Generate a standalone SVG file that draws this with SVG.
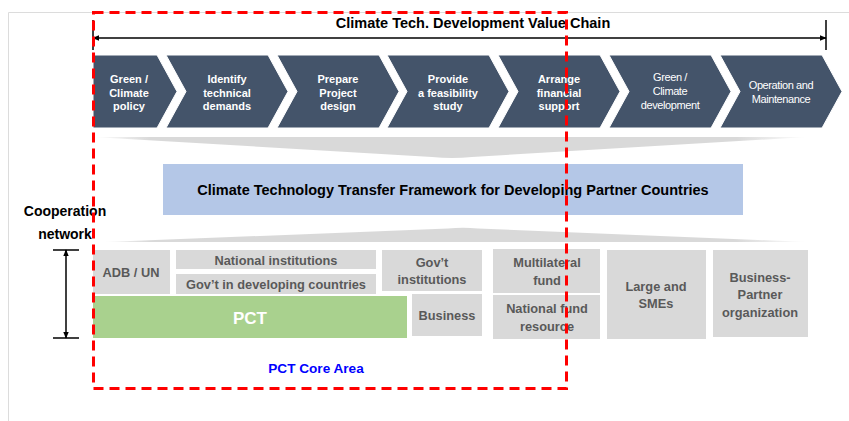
<svg xmlns="http://www.w3.org/2000/svg" width="849" height="421" viewBox="0 0 849 421">
<defs>
<style>
text{font-family:"Liberation Sans",Arial,sans-serif;font-weight:bold;text-anchor:middle}
.chev{fill:#44546a;stroke:#ffffff;stroke-width:1}
.ct{fill:#ffffff;font-size:11px}
.ctn{fill:#ffffff;font-size:11px;font-weight:normal;letter-spacing:-0.4px}
.box{fill:#d9d9d9}
.bt{fill:#595959;font-size:12.8px}
.ln{stroke:#000000;stroke-width:1.5;fill:none}
</style>
<marker id="ah" viewBox="0 0 10 10" refX="9" refY="5" markerWidth="7" markerHeight="7" orient="auto-start-reverse" markerUnits="userSpaceOnUse">
<path d="M0,1 L10,5 L0,9 Z" fill="#000000"/>
</marker>
<linearGradient id="fade" x1="93" y1="0" x2="808" y2="0" gradientUnits="userSpaceOnUse">
<stop offset="0" stop-color="#d9d9d9" stop-opacity="0"/>
<stop offset="0.08" stop-color="#d9d9d9" stop-opacity="1"/>
<stop offset="0.9" stop-color="#d9d9d9" stop-opacity="1"/>
<stop offset="1" stop-color="#d9d9d9" stop-opacity="0"/>
</linearGradient>
</defs>
<rect x="0" y="0" width="849" height="421" fill="#ffffff"/>
<path d="M8.5,421 L8.5,12.5 L849,12.5" fill="none" stroke="#dcdcdc" stroke-width="1"/>

<g id="title">
<text x="473" y="28" font-size="14.5px" fill="#000000">Climate Tech. Development Value Chain</text>
</g>

<g id="connectors">
<line class="ln" x1="93" y1="38" x2="826" y2="38" marker-start="url(#ah)" marker-end="url(#ah)"/>
<line class="ln" x1="93" y1="20" x2="93" y2="50"/>
<line class="ln" x1="826" y1="20" x2="826" y2="50"/>
<line class="ln" x1="66" y1="250" x2="66" y2="338" marker-start="url(#ah)" marker-end="url(#ah)"/>
<line class="ln" x1="53" y1="250" x2="79" y2="250"/>
<line class="ln" x1="53" y1="338" x2="79" y2="338"/>
</g>

<g id="chevron1">
<polygon class="chev" points="93,55 157,55 177,91.5 157,128 93,128"/>
<text class="ct" x="129" y="83">Green /</text>
<text class="ct" x="129" y="96.5">Climate</text>
<text class="ct" x="129" y="110">policy</text>
</g>
<g id="chevron2">
<polygon class="chev" points="166,55 268,55 288,91.5 268,128 166,128 186,91.5"/>
<text class="ct" x="227" y="83">Identify</text>
<text class="ct" x="227" y="96.5">technical</text>
<text class="ct" x="227" y="110">demands</text>
</g>
<g id="chevron3">
<polygon class="chev" points="277,55 379,55 399,91.5 379,128 277,128 297,91.5"/>
<text class="ct" x="338" y="83">Prepare</text>
<text class="ct" x="338" y="96.5">Project</text>
<text class="ct" x="338" y="110">design</text>
</g>
<g id="chevron4">
<polygon class="chev" points="387,55 489,55 509,91.5 489,128 387,128 407,91.5"/>
<text class="ct" x="448" y="83">Provide</text>
<text class="ct" x="448" y="96.5">a feasibility</text>
<text class="ct" x="448" y="110">study</text>
</g>
<g id="chevron5">
<polygon class="chev" points="498,55 600,55 620,91.5 600,128 498,128 518,91.5"/>
<text class="ct" x="559" y="83">Arrange</text>
<text class="ct" x="559" y="96.5">financial</text>
<text class="ct" x="559" y="110">support</text>
</g>
<g id="chevron6">
<polygon class="chev" points="609,55 711,55 731,91.5 711,128 609,128 629,91.5"/>
<text class="ctn" x="670" y="81">Green /</text>
<text class="ctn" x="670" y="95">Climate</text>
<text class="ctn" x="670" y="109">development</text>
</g>
<g id="chevron7">
<polygon class="chev" points="720,55 822,55 842,91.5 822,128 720,128 740,91.5"/>
<text class="ctn" x="781" y="89">Operation and</text>
<text class="ctn" x="781" y="103">Maintenance</text>
</g>

<g id="funnel-top">
<path d="M93,137 L808,137 L472,157 Q452,159 432,157 Z" fill="url(#fade)"/>
</g>

<g id="framework">
<rect x="163" y="164" width="580" height="51" fill="#b4c7e7"/>
<text x="453" y="194.5" font-size="14.5px" fill="#000000">Climate Technology Transfer Framework for Developing Partner Countries</text>
</g>

<g id="funnel-bottom">
<path d="M105,242 L448,228.5 Q463,227 478,228.5 L808,242 Z" fill="url(#fade)"/>
</g>

<g id="cooperation-label">
<text x="65" y="216" font-size="14px" fill="#000000">Cooperation</text>
<text x="65" y="238.5" font-size="14px" fill="#000000">network</text>
</g>

<g id="adb-un">
<rect class="box" x="93" y="250" width="77" height="44"/>
<text class="bt" x="131" y="277">ADB / UN</text>
</g>
<g id="national-institutions">
<rect class="box" x="176" y="250" width="200" height="19"/>
<text class="bt" x="276" y="265">National institutions</text>
</g>
<g id="govt-developing">
<rect class="box" x="176" y="274" width="200" height="20"/>
<text class="bt" x="276" y="288.5">Gov’t in developing countries</text>
</g>
<g id="pct">
<rect x="93" y="296" width="314" height="42" fill="#a9d18e"/>
<text x="250" y="323.5" font-size="17px" fill="#ffffff">PCT</text>
</g>
<g id="govt-institutions">
<rect class="box" x="382" y="250" width="100" height="41"/>
<text class="bt" x="432" y="267">Gov’t</text>
<text class="bt" x="432" y="284">institutions</text>
</g>
<g id="business">
<rect class="box" x="412" y="294" width="70" height="42"/>
<text class="bt" x="447" y="320">Business</text>
</g>
<g id="multilateral-fund">
<rect class="box" x="493" y="249" width="107" height="44"/>
<text class="bt" x="547" y="267">Multilateral</text>
<text class="bt" x="547" y="284.5">fund</text>
</g>
<g id="national-fund">
<rect class="box" x="493" y="295" width="107" height="44"/>
<text class="bt" x="547" y="313">National fund</text>
<text class="bt" x="547" y="330.5">resource</text>
</g>
<g id="large-smes">
<rect class="box" x="607" y="250" width="99" height="89"/>
<text class="bt" x="656" y="290.5">Large and</text>
<text class="bt" x="656" y="308">SMEs</text>
</g>
<g id="business-partner">
<rect class="box" x="713" y="250" width="95" height="87"/>
<text class="bt" x="760" y="281.5">Business-</text>
<text class="bt" x="760" y="299">Partner</text>
<text class="bt" x="760" y="316.5">organization</text>
</g>

<g id="pct-core-area">
<rect x="93.5" y="12.5" width="473" height="376" fill="none" stroke="#ff0000" stroke-width="3" stroke-dasharray="10 6"/>
<text x="316" y="373" font-size="13.6px" fill="#0000ff">PCT Core Area</text>
</g>
</svg>
